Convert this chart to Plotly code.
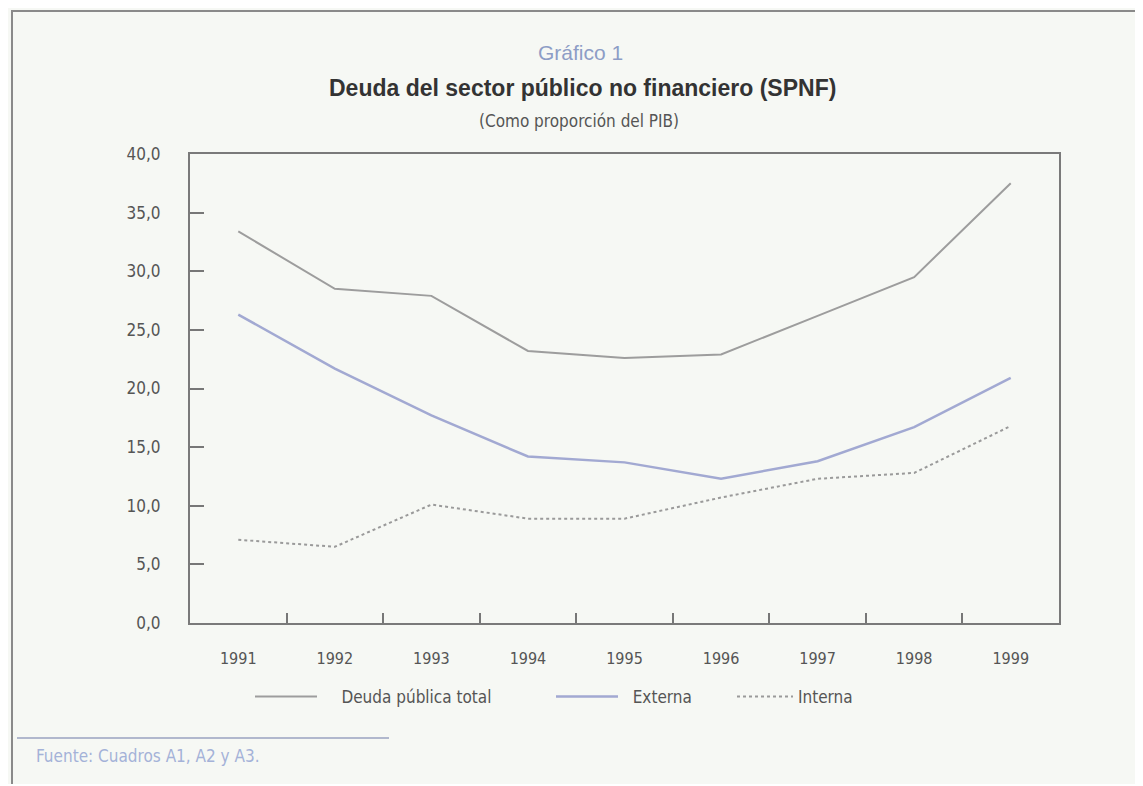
import plotly.graph_objects as go

# datos (% del PIB)
years = ["1991", "1992", "1993", "1994", "1995", "1996", "1997", "1998", "1999"]
deuda_total = [33.4, 28.5, 27.9, 23.2, 22.6, 22.9, 26.2, 29.5, 37.5]
deuda_externa = [26.3, 21.7, 17.7, 14.2, 13.7, 12.3, 13.8, 16.7, 20.9]
deuda_interna = [7.1, 6.5, 10.1, 8.9, 8.9, 10.7, 12.3, 12.8, 16.8]

y_ticks = [0, 5, 10, 15, 20, 25, 30, 35, 40]

W, H = 1143, 786
L, R, T, B = 190, 1059, 154, 623  # área del gráfico en píxeles (coordenadas de la página)
OFF = 8  # margen del <body> en la página html

BG = "#f6f8f4"
COND = "DejaVu Sans Condensed, Liberation Sans Narrow, Arial Narrow, sans-serif"
SANS = "Liberation Sans, Arial, Helvetica, sans-serif"
NB = "\u00a0"


def px(x):
    return (x - L) / (R - L)


def py(y):
    return (B - y) / (B - T)


fig = go.Figure()

fig.add_trace(go.Scatter(
    x=years, y=deuda_total, mode="lines", name=NB * 4 + "Deuda pública total",
    line=dict(color="#9d9d9d", width=2), legend="legend",
    hovertemplate="%{x}: %{y:.1f}<extra>Deuda pública total</extra>",
))
fig.add_trace(go.Scatter(
    x=years, y=deuda_externa, mode="lines", name=NB * 2 + "Externa",
    line=dict(color="#a2a9d2", width=2.5), legend="legend2",
    hovertemplate="%{x}: %{y:.1f}<extra>Externa</extra>",
))
fig.add_trace(go.Scatter(
    x=years, y=deuda_interna, mode="lines", name="Interna",
    line=dict(color="#9a9a9a", width=2, dash="dot"), legend="legend3",
    hovertemplate="%{x}: %{y:.1f}<extra>Interna</extra>",
))

legend_common = dict(
    orientation="h", yanchor="middle", xanchor="left",
    bgcolor="rgba(0,0,0,0)", itemwidth=62,
    font=dict(family=COND, size=17, color="#555555"),
)
fig.update_layout(
    legend=dict(x=px(250), y=py(697), **legend_common),
    legend2=dict(x=px(551), y=py(697), **legend_common),
    legend3=dict(x=px(732), y=py(697), itemwidth=56,
                 **{k: v for k, v in legend_common.items() if k != "itemwidth"}),
)

fig.update_xaxes(
    type="category", range=[-0.5, len(years) - 0.5],
    tickson="boundaries", ticks="inside", ticklen=10,
    tickcolor="#777777", tickwidth=1.5,
    showline=True, linecolor="#7a7a7a", linewidth=2, mirror=True,
    showgrid=False, zeroline=False,
    tickfont=dict(family=COND, size=16, color="#555555"),
    ticklabelstandoff=20,
)
fig.update_yaxes(
    range=[0, 40], tickvals=y_ticks, tickformat=".1f",
    ticks="inside", ticklen=14, tickcolor="#777777", tickwidth=1.5,
    showline=True, linecolor="#7a7a7a", linewidth=2, mirror=True,
    showgrid=False, zeroline=False,
    tickfont=dict(family=COND, size=17, color="#555555"),
    ticklabelstandoff=24,
)

annotations = [
    dict(text="Gráfico 1", x=px(580), y=py(52),
         font=dict(family=SANS, size=21, color="#8d9dc6")),
    dict(text="<b>Deuda del sector público no financiero (SPNF)</b>", x=px(582), y=py(88),
         font=dict(family=SANS, size=23, color="#333333")),
    dict(text="(Como proporción del PIB)", x=px(579), y=py(121),
         font=dict(family=COND, size=17, color="#555555")),
    dict(text="Fuente: Cuadros A1, A2 y A3.", x=px(34), y=py(756), xanchor="left",
         font=dict(family=COND, size=17, color="#a4b2d8")),
]
for a in annotations:
    a.update(xref="paper", yref="paper", showarrow=False, yanchor="middle")
    a.setdefault("xanchor", "center")

shapes = [
    # marco de la página
    dict(type="line", x0=px(11), x1=px(W + 20), y0=py(11), y1=py(11),
         line=dict(color="#8a8a8a", width=2)),
    dict(type="line", x0=px(12), x1=px(12), y0=py(11), y1=py(H + 20),
         line=dict(color="#8a8a8a", width=2)),
    # línea sobre la fuente
    dict(type="line", x0=px(17), x1=px(389), y0=py(738), y1=py(738),
         line=dict(color="#9aa3c0", width=1.5)),
]
for s in shapes:
    s.update(xref="paper", yref="paper")

fig.update_layout(
    width=W - OFF, height=H - OFF - 2,
    margin=dict(l=L - OFF, r=W - R, t=T - OFF, b=H - 2 - B),
    paper_bgcolor=BG, plot_bgcolor=BG,
    separators=",.",
    annotations=annotations,
    shapes=shapes,
    showlegend=True,
)

fig.write_html("out.html")
